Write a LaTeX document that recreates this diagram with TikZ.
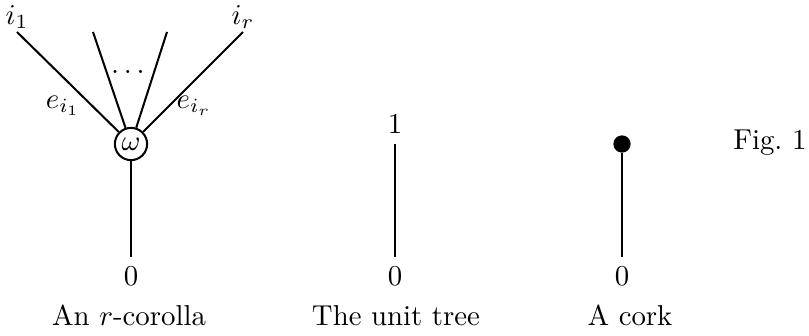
\documentclass[tikz,border=0pt]{standalone}
\begin{document}
\begin{tikzpicture}[x=0.0122cm,y=-0.0122cm,
    edge/.style={line width=0.7pt},
    vert/.style={draw,circle,line width=0.7pt,minimum size=11.2pt,inner sep=0pt},
    cork/.style={fill,circle,minimum size=6pt,inner sep=0pt},
    lab/.style={anchor=base}]
  \useasboundingbox (0,0) rectangle (809,336);
  % the r-corolla
  \node[vert] (om) at (131,144) {$\omega$};
  \coordinate (l1) at (17,32);
  \coordinate (l2) at (93,32);
  \coordinate (l3) at (167,32);
  \coordinate (l4) at (243,32);
  \node (i1) at (17,17) {$i_1$};
  \node (ir) at (243,17) {$i_r$};
  \node (dots) at (128,72) {$\dots$};
  \node (e1) at (63,106) {$e_{i_1}$};
  \node (er) at (194,106) {$e_{i_r}$};
  \node[lab] (z1) at (131,286) {$0$};
  \foreach \l in {l1,l2,l3,l4}
    \draw[edge] (om) -- (\l);
  \draw[edge] (om) -- (z1);
  \node[lab] (c1) at (129,326) {An $r$-corolla};
  % the unit tree
  \node[lab] (one) at (395,134) {$1$};
  \node[lab] (z2) at (395,286) {$0$};
  \draw[edge] (one) -- (z2);
  \node[lab] (c2) at (396,326) {The unit tree};
  % a cork
  \node[cork] (dot) at (622,144) {};
  \node[lab] (z3) at (622,286) {$0$};
  \draw[edge] (dot) -- (z3);
  \node[lab] (c3) at (630,326) {A cork};
  \node[anchor=base east,inner sep=0pt] (fig) at (807,150) {Fig.\ 1};
\end{tikzpicture}
\end{document}
